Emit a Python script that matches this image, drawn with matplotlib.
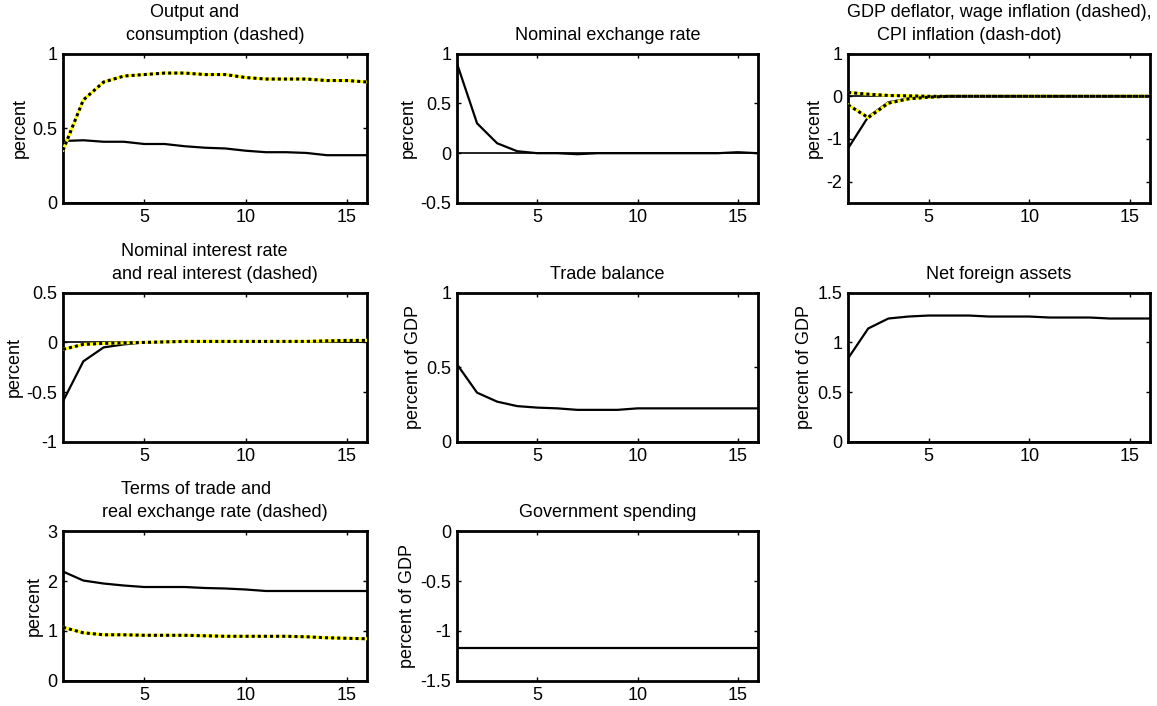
import numpy as np
import matplotlib
matplotlib.use("Agg")
import matplotlib.pyplot as plt

# --- Data ---
periods = np.arange(1, 17)

output = [0.415, 0.42, 0.41, 0.41, 0.395, 0.395, 0.38, 0.37, 0.365, 0.35, 0.34, 0.34, 0.335, 0.32, 0.32, 0.32]
consumption = [0.354, 0.69, 0.81, 0.85, 0.86, 0.87, 0.87, 0.86, 0.86, 0.84, 0.83, 0.83, 0.83, 0.82, 0.82, 0.81]

nominal_fx = [0.9, 0.3, 0.1, 0.02, 0.0, 0.0, -0.01, 0.0, 0.0, 0.0, 0.0, 0.0, 0.0, 0.0, 0.01, 0.0]

gdp_deflator = [-1.22, -0.48, -0.14, -0.05, -0.02, 0.0, 0.0, 0.0, 0.0, 0.0, 0.0, 0.0, 0.0, 0.0, 0.0, 0.0]
wage_infl = [-0.2, -0.5, -0.16, -0.06, -0.02, 0.0, 0.0, 0.0, 0.0, 0.0, 0.0, 0.0, 0.0, 0.0, 0.0, 0.0]
cpi_infl = [0.09, 0.05, 0.02, 0.01, 0.0, 0.0, 0.0, 0.0, 0.0, 0.0, 0.0, 0.0, 0.0, 0.0, 0.0, 0.0]

nominal_rate = [-0.59, -0.19, -0.05, -0.02, 0.0, 0.005, 0.01, 0.01, 0.01, 0.01, 0.01, 0.01, 0.01, 0.01, 0.01, 0.01]
real_rate = [-0.07, -0.02, -0.01, -0.005, 0.0, 0.005, 0.01, 0.01, 0.01, 0.01, 0.01, 0.01, 0.01, 0.015, 0.02, 0.02]

trade_balance = [0.52, 0.33, 0.27, 0.24, 0.23, 0.225, 0.215, 0.215, 0.215, 0.225, 0.225, 0.225, 0.225, 0.225, 0.225, 0.225]

nfa = [0.84, 1.14, 1.24, 1.26, 1.27, 1.27, 1.27, 1.26, 1.26, 1.26, 1.25, 1.25, 1.25, 1.24, 1.24, 1.24]

terms_of_trade = [2.19, 2.01, 1.95, 1.91, 1.88, 1.88, 1.88, 1.86, 1.85, 1.83, 1.8, 1.8, 1.8, 1.8, 1.8, 1.8]
real_fx = [1.07, 0.96, 0.92, 0.92, 0.91, 0.91, 0.91, 0.9, 0.89, 0.89, 0.89, 0.89, 0.88, 0.86, 0.85, 0.84]

gov_spending = [-1.17] * 16

FS = 13

plt.rcParams['font.family'] = ['Liberation Sans', 'DejaVu Sans']
plt.rcParams['font.size'] = FS

fig = plt.figure(figsize=(11.57, 7.06), dpi=100)

cols = [0.0545, 0.395, 0.733]
widths = [0.263, 0.260, 0.261]
rows = [0.7125, 0.374, 0.036]
height = 0.2115


def make_ax(r, c, title, ylabel, ylim, yticks, yticklabels):
    ax = fig.add_axes([cols[c], rows[r], widths[c], height])
    ax.set_xlim(1, 16)
    ax.set_ylim(*ylim)
    ax.set_xticks([5, 10, 15])
    ax.set_yticks(yticks)
    ax.set_yticklabels(yticklabels)
    ax.tick_params(direction='in', top=True, right=True, length=3, width=1,
                   labelsize=FS, pad=4)
    ax.tick_params(axis='x', pad=4.5)
    for s in ax.spines.values():
        s.set_linewidth(2)
    # MATLAB char-matrix titles: shorter rows are padded with blanks,
    # so they sit left of centre by half the padding
    n = max(len(s) for s in title)
    step = 2.1 * 0.72  # points per padded blank
    for k, s in enumerate(title):
        shift = -(n - len(s)) * step
        ax.annotate(s, xy=(0.5, 1), xycoords='axes fraction',
                    xytext=(shift, 10 + 16.5 * (len(title) - 1 - k)), textcoords='offset points',
                    ha='center', va='baseline', fontsize=FS)
    ax.set_ylabel(ylabel, fontsize=FS, labelpad=3)
    ax.axhline(0, color='black', lw=1.2, zorder=1)
    return ax


def solid(ax, y):
    ax.plot(periods, y, color='black', lw=1.6, zorder=3)


def dashed(ax, y):
    ax.plot(periods, y, color='yellow', lw=2.2, zorder=4)
    ax.plot(periods, y, color='black', lw=2.2, ls=(0, (1, 1)), zorder=5)


ax = make_ax(0, 0, ['Output and', 'consumption (dashed)'], 'percent', (0, 1), [0, 0.5, 1], ['0', '0.5', '1'])
solid(ax, output)
dashed(ax, consumption)

ax = make_ax(0, 1, ['Nominal exchange rate'], 'percent', (-0.5, 1), [-0.5, 0, 0.5, 1], ['-0.5', '0', '0.5', '1'])
solid(ax, nominal_fx)

ax = make_ax(0, 2, ['GDP deflator, wage inflation (dashed),', 'CPI inflation (dash-dot)'], 'percent',
             (-2.5, 1), [-2, -1, 0, 1], ['-2', '-1', '0', '1'])
solid(ax, gdp_deflator)
dashed(ax, wage_infl)
dashed(ax, cpi_infl)

ax = make_ax(1, 0, ['Nominal interest rate', 'and real interest (dashed)'], 'percent', (-1, 0.5),
             [-1, -0.5, 0, 0.5], ['-1', '-0.5', '0', '0.5'])
solid(ax, nominal_rate)
dashed(ax, real_rate)

ax = make_ax(1, 1, ['Trade balance'], 'percent of GDP', (0, 1), [0, 0.5, 1], ['0', '0.5', '1'])
solid(ax, trade_balance)

ax = make_ax(1, 2, ['Net foreign assets'], 'percent of GDP', (0, 1.5), [0, 0.5, 1, 1.5], ['0', '0.5', '1', '1.5'])
solid(ax, nfa)

ax = make_ax(2, 0, ['Terms of trade and', 'real exchange rate (dashed)'], 'percent', (0, 3), [0, 1, 2, 3], ['0', '1', '2', '3'])
solid(ax, terms_of_trade)
dashed(ax, real_fx)

ax = make_ax(2, 1, ['Government spending'], 'percent of GDP', (-1.5, 0), [-1.5, -1, -0.5, 0], ['-1.5', '-1', '-0.5', '0'])
solid(ax, gov_spending)

fig.savefig('out.png', dpi=100)
